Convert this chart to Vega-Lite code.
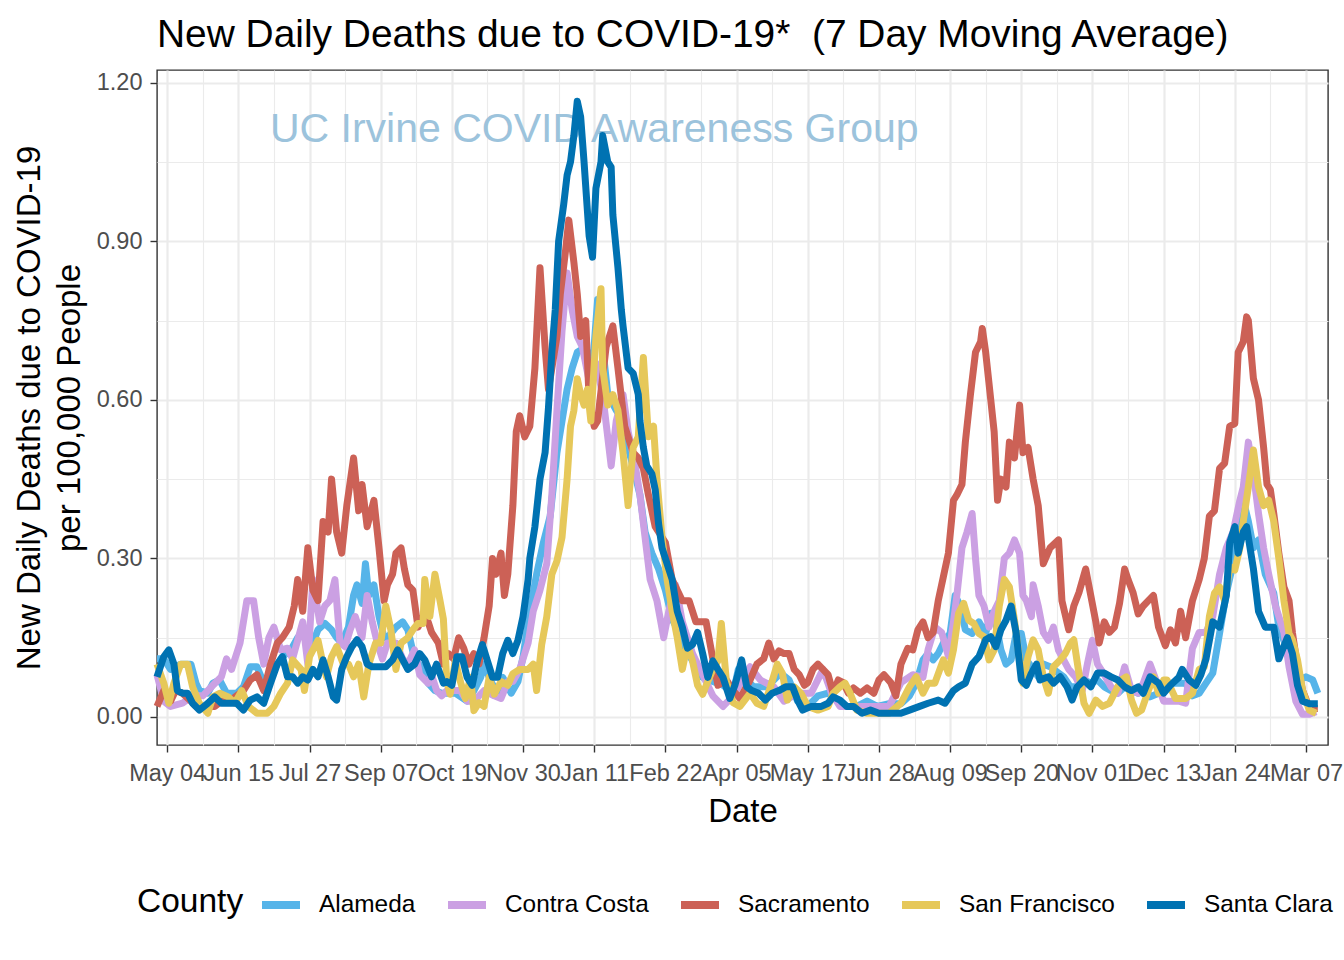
{
  "$schema": "https://vega.github.io/schema/vega-lite/v6.json",
  "width": 1171,
  "height": 675,
  "autosize": {"type": "none"},
  "padding": {"left": 157, "top": 70, "right": 16, "bottom": 215},
  "background": "white",
  "title": {
    "text": "New Daily Deaths due to COVID-19*\u00a0 (7 Day Moving Average)",
    "anchor": "start",
    "frame": "group",
    "fontSize": 38.9,
    "fontWeight": "normal",
    "color": "black",
    "font": "Liberation Sans",
    "offset": 15
  },
  "config": {
    "font": "Liberation Sans",
    "view": {"stroke": "#333333", "strokeWidth": 1.4, "fill": "white"}
  },
  "datasets": {
    "deaths": [
      {"County":"Alameda","date":"2020-04-28","value":0.11},
      {"County":"Alameda","date":"2020-05-02","value":0.11},
      {"County":"Alameda","date":"2020-05-06","value":0.09},
      {"County":"Alameda","date":"2020-05-12","value":0.10},
      {"County":"Alameda","date":"2020-05-18","value":0.10},
      {"County":"Alameda","date":"2020-05-21","value":0.064},
      {"County":"Alameda","date":"2020-05-23","value":0.05},
      {"County":"Alameda","date":"2020-05-28","value":0.045},
      {"County":"Alameda","date":"2020-05-31","value":0.064},
      {"County":"Alameda","date":"2020-06-04","value":0.07},
      {"County":"Alameda","date":"2020-06-08","value":0.045},
      {"County":"Alameda","date":"2020-06-14","value":0.045},
      {"County":"Alameda","date":"2020-06-18","value":0.057},
      {"County":"Alameda","date":"2020-06-22","value":0.095},
      {"County":"Alameda","date":"2020-06-26","value":0.095},
      {"County":"Alameda","date":"2020-06-30","value":0.064},
      {"County":"Alameda","date":"2020-07-06","value":0.09},
      {"County":"Alameda","date":"2020-07-11","value":0.114},
      {"County":"Alameda","date":"2020-07-16","value":0.127},
      {"County":"Alameda","date":"2020-07-20","value":0.15},
      {"County":"Alameda","date":"2020-07-24","value":0.165},
      {"County":"Alameda","date":"2020-07-29","value":0.14},
      {"County":"Alameda","date":"2020-08-01","value":0.165},
      {"County":"Alameda","date":"2020-08-05","value":0.177},
      {"County":"Alameda","date":"2020-08-09","value":0.165},
      {"County":"Alameda","date":"2020-08-12","value":0.15},
      {"County":"Alameda","date":"2020-08-15","value":0.14},
      {"County":"Alameda","date":"2020-08-19","value":0.17},
      {"County":"Alameda","date":"2020-08-22","value":0.23},
      {"County":"Alameda","date":"2020-08-24","value":0.25},
      {"County":"Alameda","date":"2020-08-27","value":0.215},
      {"County":"Alameda","date":"2020-08-29","value":0.29},
      {"County":"Alameda","date":"2020-08-31","value":0.23},
      {"County":"Alameda","date":"2020-09-03","value":0.25},
      {"County":"Alameda","date":"2020-09-06","value":0.19},
      {"County":"Alameda","date":"2020-09-09","value":0.15},
      {"County":"Alameda","date":"2020-09-11","value":0.15},
      {"County":"Alameda","date":"2020-09-16","value":0.17},
      {"County":"Alameda","date":"2020-09-20","value":0.18},
      {"County":"Alameda","date":"2020-09-23","value":0.165},
      {"County":"Alameda","date":"2020-09-27","value":0.11},
      {"County":"Alameda","date":"2020-10-02","value":0.09},
      {"County":"Alameda","date":"2020-10-05","value":0.064},
      {"County":"Alameda","date":"2020-10-09","value":0.05},
      {"County":"Alameda","date":"2020-10-13","value":0.045},
      {"County":"Alameda","date":"2020-10-21","value":0.045},
      {"County":"Alameda","date":"2020-10-28","value":0.03},
      {"County":"Alameda","date":"2020-11-01","value":0.05},
      {"County":"Alameda","date":"2020-11-05","value":0.075},
      {"County":"Alameda","date":"2020-11-07","value":0.10},
      {"County":"Alameda","date":"2020-11-11","value":0.067},
      {"County":"Alameda","date":"2020-11-15","value":0.045},
      {"County":"Alameda","date":"2020-11-18","value":0.075},
      {"County":"Alameda","date":"2020-11-23","value":0.045},
      {"County":"Alameda","date":"2020-11-27","value":0.067},
      {"County":"Alameda","date":"2020-11-30","value":0.114},
      {"County":"Alameda","date":"2020-12-04","value":0.20},
      {"County":"Alameda","date":"2020-12-08","value":0.27},
      {"County":"Alameda","date":"2020-12-12","value":0.33},
      {"County":"Alameda","date":"2020-12-16","value":0.38},
      {"County":"Alameda","date":"2020-12-20","value":0.50},
      {"County":"Alameda","date":"2020-12-23","value":0.56},
      {"County":"Alameda","date":"2020-12-26","value":0.62},
      {"County":"Alameda","date":"2020-12-29","value":0.66},
      {"County":"Alameda","date":"2021-01-01","value":0.69},
      {"County":"Alameda","date":"2021-01-06","value":0.70},
      {"County":"Alameda","date":"2021-01-10","value":0.66},
      {"County":"Alameda","date":"2021-01-13","value":0.79},
      {"County":"Alameda","date":"2021-01-16","value":0.70},
      {"County":"Alameda","date":"2021-01-19","value":0.61},
      {"County":"Alameda","date":"2021-01-24","value":0.58},
      {"County":"Alameda","date":"2021-01-28","value":0.56},
      {"County":"Alameda","date":"2021-01-31","value":0.51},
      {"County":"Alameda","date":"2021-02-04","value":0.46},
      {"County":"Alameda","date":"2021-02-07","value":0.42},
      {"County":"Alameda","date":"2021-02-10","value":0.35},
      {"County":"Alameda","date":"2021-02-14","value":0.31},
      {"County":"Alameda","date":"2021-02-18","value":0.28},
      {"County":"Alameda","date":"2021-02-22","value":0.24},
      {"County":"Alameda","date":"2021-02-26","value":0.185},
      {"County":"Alameda","date":"2021-03-02","value":0.16},
      {"County":"Alameda","date":"2021-03-06","value":0.13},
      {"County":"Alameda","date":"2021-03-10","value":0.106},
      {"County":"Alameda","date":"2021-03-16","value":0.075},
      {"County":"Alameda","date":"2021-03-22","value":0.067},
      {"County":"Alameda","date":"2021-03-28","value":0.06},
      {"County":"Alameda","date":"2021-04-03","value":0.045},
      {"County":"Alameda","date":"2021-04-06","value":0.09},
      {"County":"Alameda","date":"2021-04-09","value":0.076},
      {"County":"Alameda","date":"2021-04-15","value":0.057},
      {"County":"Alameda","date":"2021-04-23","value":0.057},
      {"County":"Alameda","date":"2021-05-01","value":0.083},
      {"County":"Alameda","date":"2021-05-06","value":0.07},
      {"County":"Alameda","date":"2021-05-11","value":0.03},
      {"County":"Alameda","date":"2021-05-17","value":0.02},
      {"County":"Alameda","date":"2021-05-23","value":0.04},
      {"County":"Alameda","date":"2021-05-29","value":0.045},
      {"County":"Alameda","date":"2021-06-04","value":0.03},
      {"County":"Alameda","date":"2021-06-09","value":0.02},
      {"County":"Alameda","date":"2021-06-15","value":0.02},
      {"County":"Alameda","date":"2021-06-21","value":0.03},
      {"County":"Alameda","date":"2021-06-27","value":0.02},
      {"County":"Alameda","date":"2021-07-04","value":0.025},
      {"County":"Alameda","date":"2021-07-11","value":0.025},
      {"County":"Alameda","date":"2021-07-16","value":0.04},
      {"County":"Alameda","date":"2021-07-20","value":0.064},
      {"County":"Alameda","date":"2021-07-24","value":0.108},
      {"County":"Alameda","date":"2021-07-27","value":0.12},
      {"County":"Alameda","date":"2021-07-30","value":0.108},
      {"County":"Alameda","date":"2021-08-02","value":0.12},
      {"County":"Alameda","date":"2021-08-06","value":0.146},
      {"County":"Alameda","date":"2021-08-09","value":0.158},
      {"County":"Alameda","date":"2021-08-12","value":0.23},
      {"County":"Alameda","date":"2021-08-15","value":0.21},
      {"County":"Alameda","date":"2021-08-18","value":0.165},
      {"County":"Alameda","date":"2021-08-22","value":0.158},
      {"County":"Alameda","date":"2021-08-26","value":0.18},
      {"County":"Alameda","date":"2021-08-30","value":0.158},
      {"County":"Alameda","date":"2021-09-02","value":0.196},
      {"County":"Alameda","date":"2021-09-05","value":0.177},
      {"County":"Alameda","date":"2021-09-08","value":0.127},
      {"County":"Alameda","date":"2021-09-11","value":0.10},
      {"County":"Alameda","date":"2021-09-14","value":0.108},
      {"County":"Alameda","date":"2021-09-17","value":0.158},
      {"County":"Alameda","date":"2021-09-20","value":0.158},
      {"County":"Alameda","date":"2021-09-23","value":0.108},
      {"County":"Alameda","date":"2021-09-26","value":0.095},
      {"County":"Alameda","date":"2021-09-30","value":0.076},
      {"County":"Alameda","date":"2021-10-03","value":0.10},
      {"County":"Alameda","date":"2021-10-07","value":0.095},
      {"County":"Alameda","date":"2021-10-12","value":0.083},
      {"County":"Alameda","date":"2021-10-15","value":0.076},
      {"County":"Alameda","date":"2021-10-19","value":0.057},
      {"County":"Alameda","date":"2021-10-23","value":0.057},
      {"County":"Alameda","date":"2021-10-27","value":0.07},
      {"County":"Alameda","date":"2021-10-31","value":0.064},
      {"County":"Alameda","date":"2021-11-04","value":0.07},
      {"County":"Alameda","date":"2021-11-08","value":0.057},
      {"County":"Alameda","date":"2021-11-12","value":0.05},
      {"County":"Alameda","date":"2021-11-16","value":0.045},
      {"County":"Alameda","date":"2021-11-20","value":0.057},
      {"County":"Alameda","date":"2021-11-24","value":0.05},
      {"County":"Alameda","date":"2021-11-28","value":0.045},
      {"County":"Alameda","date":"2021-12-01","value":0.057},
      {"County":"Alameda","date":"2021-12-05","value":0.038},
      {"County":"Alameda","date":"2021-12-10","value":0.045},
      {"County":"Alameda","date":"2021-12-13","value":0.05},
      {"County":"Alameda","date":"2021-12-17","value":0.064},
      {"County":"Alameda","date":"2021-12-22","value":0.064},
      {"County":"Alameda","date":"2021-12-26","value":0.064},
      {"County":"Alameda","date":"2021-12-30","value":0.04},
      {"County":"Alameda","date":"2022-01-03","value":0.045},
      {"County":"Alameda","date":"2022-01-07","value":0.064},
      {"County":"Alameda","date":"2022-01-11","value":0.083},
      {"County":"Alameda","date":"2022-01-15","value":0.158},
      {"County":"Alameda","date":"2022-01-19","value":0.234},
      {"County":"Alameda","date":"2022-01-23","value":0.29},
      {"County":"Alameda","date":"2022-01-27","value":0.40},
      {"County":"Alameda","date":"2022-01-29","value":0.41},
      {"County":"Alameda","date":"2022-02-01","value":0.37},
      {"County":"Alameda","date":"2022-02-04","value":0.32},
      {"County":"Alameda","date":"2022-02-07","value":0.335},
      {"County":"Alameda","date":"2022-02-11","value":0.27},
      {"County":"Alameda","date":"2022-02-16","value":0.234},
      {"County":"Alameda","date":"2022-02-19","value":0.17},
      {"County":"Alameda","date":"2022-02-24","value":0.127},
      {"County":"Alameda","date":"2022-02-27","value":0.108},
      {"County":"Alameda","date":"2022-03-03","value":0.07},
      {"County":"Alameda","date":"2022-03-07","value":0.076},
      {"County":"Alameda","date":"2022-03-11","value":0.07},
      {"County":"Alameda","date":"2022-03-14","value":0.045},

      {"County":"Contra Costa","date":"2020-04-28","value":0.08},
      {"County":"Contra Costa","date":"2020-05-02","value":0.03},
      {"County":"Contra Costa","date":"2020-05-06","value":0.02},
      {"County":"Contra Costa","date":"2020-05-13","value":0.026},
      {"County":"Contra Costa","date":"2020-05-19","value":0.04},
      {"County":"Contra Costa","date":"2020-05-25","value":0.04},
      {"County":"Contra Costa","date":"2020-05-31","value":0.06},
      {"County":"Contra Costa","date":"2020-06-05","value":0.076},
      {"County":"Contra Costa","date":"2020-06-08","value":0.11},
      {"County":"Contra Costa","date":"2020-06-11","value":0.09},
      {"County":"Contra Costa","date":"2020-06-16","value":0.14},
      {"County":"Contra Costa","date":"2020-06-20","value":0.22},
      {"County":"Contra Costa","date":"2020-06-24","value":0.22},
      {"County":"Contra Costa","date":"2020-06-27","value":0.15},
      {"County":"Contra Costa","date":"2020-06-30","value":0.10},
      {"County":"Contra Costa","date":"2020-07-03","value":0.15},
      {"County":"Contra Costa","date":"2020-07-06","value":0.17},
      {"County":"Contra Costa","date":"2020-07-10","value":0.127},
      {"County":"Contra Costa","date":"2020-07-14","value":0.13},
      {"County":"Contra Costa","date":"2020-07-17","value":0.11},
      {"County":"Contra Costa","date":"2020-07-20","value":0.145},
      {"County":"Contra Costa","date":"2020-07-23","value":0.18},
      {"County":"Contra Costa","date":"2020-07-26","value":0.10},
      {"County":"Contra Costa","date":"2020-07-29","value":0.26},
      {"County":"Contra Costa","date":"2020-08-02","value":0.18},
      {"County":"Contra Costa","date":"2020-08-05","value":0.21},
      {"County":"Contra Costa","date":"2020-08-08","value":0.22},
      {"County":"Contra Costa","date":"2020-08-11","value":0.26},
      {"County":"Contra Costa","date":"2020-08-14","value":0.14},
      {"County":"Contra Costa","date":"2020-08-17","value":0.133},
      {"County":"Contra Costa","date":"2020-08-20","value":0.165},
      {"County":"Contra Costa","date":"2020-08-23","value":0.19},
      {"County":"Contra Costa","date":"2020-08-27","value":0.15},
      {"County":"Contra Costa","date":"2020-08-30","value":0.23},
      {"County":"Contra Costa","date":"2020-09-02","value":0.18},
      {"County":"Contra Costa","date":"2020-09-05","value":0.14},
      {"County":"Contra Costa","date":"2020-09-08","value":0.11},
      {"County":"Contra Costa","date":"2020-09-11","value":0.14},
      {"County":"Contra Costa","date":"2020-09-16","value":0.14},
      {"County":"Contra Costa","date":"2020-09-20","value":0.11},
      {"County":"Contra Costa","date":"2020-09-23","value":0.10},
      {"County":"Contra Costa","date":"2020-09-27","value":0.127},
      {"County":"Contra Costa","date":"2020-09-30","value":0.08},
      {"County":"Contra Costa","date":"2020-10-05","value":0.064},
      {"County":"Contra Costa","date":"2020-10-07","value":0.08},
      {"County":"Contra Costa","date":"2020-10-10","value":0.05},
      {"County":"Contra Costa","date":"2020-10-13","value":0.04},
      {"County":"Contra Costa","date":"2020-10-16","value":0.05},
      {"County":"Contra Costa","date":"2020-10-24","value":0.05},
      {"County":"Contra Costa","date":"2020-10-28","value":0.03},
      {"County":"Contra Costa","date":"2020-11-01","value":0.03},
      {"County":"Contra Costa","date":"2020-11-07","value":0.05},
      {"County":"Contra Costa","date":"2020-11-13","value":0.04},
      {"County":"Contra Costa","date":"2020-11-17","value":0.035},
      {"County":"Contra Costa","date":"2020-11-21","value":0.067},
      {"County":"Contra Costa","date":"2020-11-24","value":0.067},
      {"County":"Contra Costa","date":"2020-11-28","value":0.09},
      {"County":"Contra Costa","date":"2020-12-03","value":0.14},
      {"County":"Contra Costa","date":"2020-12-06","value":0.20},
      {"County":"Contra Costa","date":"2020-12-10","value":0.24},
      {"County":"Contra Costa","date":"2020-12-14","value":0.29},
      {"County":"Contra Costa","date":"2020-12-17","value":0.42},
      {"County":"Contra Costa","date":"2020-12-20","value":0.58},
      {"County":"Contra Costa","date":"2020-12-23","value":0.73},
      {"County":"Contra Costa","date":"2020-12-26","value":0.84},
      {"County":"Contra Costa","date":"2020-12-29","value":0.77},
      {"County":"Contra Costa","date":"2021-01-01","value":0.72},
      {"County":"Contra Costa","date":"2021-01-04","value":0.70},
      {"County":"Contra Costa","date":"2021-01-09","value":0.62},
      {"County":"Contra Costa","date":"2021-01-12","value":0.67},
      {"County":"Contra Costa","date":"2021-01-16","value":0.61},
      {"County":"Contra Costa","date":"2021-01-21","value":0.475},
      {"County":"Contra Costa","date":"2021-01-24","value":0.56},
      {"County":"Contra Costa","date":"2021-01-28","value":0.61},
      {"County":"Contra Costa","date":"2021-01-31","value":0.54},
      {"County":"Contra Costa","date":"2021-02-04","value":0.48},
      {"County":"Contra Costa","date":"2021-02-07","value":0.42},
      {"County":"Contra Costa","date":"2021-02-10","value":0.34},
      {"County":"Contra Costa","date":"2021-02-13","value":0.26},
      {"County":"Contra Costa","date":"2021-02-17","value":0.22},
      {"County":"Contra Costa","date":"2021-02-21","value":0.15},
      {"County":"Contra Costa","date":"2021-02-24","value":0.20},
      {"County":"Contra Costa","date":"2021-02-28","value":0.25},
      {"County":"Contra Costa","date":"2021-03-04","value":0.18},
      {"County":"Contra Costa","date":"2021-03-10","value":0.12},
      {"County":"Contra Costa","date":"2021-03-16","value":0.08},
      {"County":"Contra Costa","date":"2021-03-22","value":0.04},
      {"County":"Contra Costa","date":"2021-03-28","value":0.02},
      {"County":"Contra Costa","date":"2021-04-03","value":0.04},
      {"County":"Contra Costa","date":"2021-04-13","value":0.095},
      {"County":"Contra Costa","date":"2021-04-19","value":0.07},
      {"County":"Contra Costa","date":"2021-04-27","value":0.057},
      {"County":"Contra Costa","date":"2021-05-03","value":0.03},
      {"County":"Contra Costa","date":"2021-05-11","value":0.045},
      {"County":"Contra Costa","date":"2021-05-19","value":0.045},
      {"County":"Contra Costa","date":"2021-05-26","value":0.09},
      {"County":"Contra Costa","date":"2021-05-31","value":0.045},
      {"County":"Contra Costa","date":"2021-06-05","value":0.02},
      {"County":"Contra Costa","date":"2021-06-11","value":0.02},
      {"County":"Contra Costa","date":"2021-06-19","value":0.02},
      {"County":"Contra Costa","date":"2021-06-27","value":0.02},
      {"County":"Contra Costa","date":"2021-07-04","value":0.02},
      {"County":"Contra Costa","date":"2021-07-11","value":0.065},
      {"County":"Contra Costa","date":"2021-07-18","value":0.08},
      {"County":"Contra Costa","date":"2021-07-24","value":0.075},
      {"County":"Contra Costa","date":"2021-07-27","value":0.127},
      {"County":"Contra Costa","date":"2021-07-31","value":0.17},
      {"County":"Contra Costa","date":"2021-08-04","value":0.16},
      {"County":"Contra Costa","date":"2021-08-08","value":0.115},
      {"County":"Contra Costa","date":"2021-08-11","value":0.18},
      {"County":"Contra Costa","date":"2021-08-13","value":0.23},
      {"County":"Contra Costa","date":"2021-08-16","value":0.32},
      {"County":"Contra Costa","date":"2021-08-19","value":0.35},
      {"County":"Contra Costa","date":"2021-08-22","value":0.385},
      {"County":"Contra Costa","date":"2021-08-24","value":0.30},
      {"County":"Contra Costa","date":"2021-08-26","value":0.23},
      {"County":"Contra Costa","date":"2021-08-29","value":0.21},
      {"County":"Contra Costa","date":"2021-09-01","value":0.17},
      {"County":"Contra Costa","date":"2021-09-04","value":0.20},
      {"County":"Contra Costa","date":"2021-09-07","value":0.22},
      {"County":"Contra Costa","date":"2021-09-10","value":0.30},
      {"County":"Contra Costa","date":"2021-09-13","value":0.31},
      {"County":"Contra Costa","date":"2021-09-16","value":0.335},
      {"County":"Contra Costa","date":"2021-09-19","value":0.31},
      {"County":"Contra Costa","date":"2021-09-21","value":0.23},
      {"County":"Contra Costa","date":"2021-09-23","value":0.22},
      {"County":"Contra Costa","date":"2021-09-26","value":0.19},
      {"County":"Contra Costa","date":"2021-09-27","value":0.25},
      {"County":"Contra Costa","date":"2021-09-30","value":0.21},
      {"County":"Contra Costa","date":"2021-10-03","value":0.16},
      {"County":"Contra Costa","date":"2021-10-06","value":0.145},
      {"County":"Contra Costa","date":"2021-10-09","value":0.17},
      {"County":"Contra Costa","date":"2021-10-12","value":0.126},
      {"County":"Contra Costa","date":"2021-10-15","value":0.108},
      {"County":"Contra Costa","date":"2021-10-18","value":0.09},
      {"County":"Contra Costa","date":"2021-10-22","value":0.076},
      {"County":"Contra Costa","date":"2021-10-26","value":0.05},
      {"County":"Contra Costa","date":"2021-10-29","value":0.10},
      {"County":"Contra Costa","date":"2021-11-01","value":0.145},
      {"County":"Contra Costa","date":"2021-11-04","value":0.10},
      {"County":"Contra Costa","date":"2021-11-08","value":0.08},
      {"County":"Contra Costa","date":"2021-11-12","value":0.057},
      {"County":"Contra Costa","date":"2021-11-16","value":0.045},
      {"County":"Contra Costa","date":"2021-11-20","value":0.095},
      {"County":"Contra Costa","date":"2021-11-24","value":0.05},
      {"County":"Contra Costa","date":"2021-11-28","value":0.045},
      {"County":"Contra Costa","date":"2021-12-01","value":0.064},
      {"County":"Contra Costa","date":"2021-12-05","value":0.10},
      {"County":"Contra Costa","date":"2021-12-10","value":0.057},
      {"County":"Contra Costa","date":"2021-12-13","value":0.03},
      {"County":"Contra Costa","date":"2021-12-17","value":0.03},
      {"County":"Contra Costa","date":"2021-12-22","value":0.03},
      {"County":"Contra Costa","date":"2021-12-26","value":0.026},
      {"County":"Contra Costa","date":"2021-12-30","value":0.13},
      {"County":"Contra Costa","date":"2022-01-03","value":0.16},
      {"County":"Contra Costa","date":"2022-01-07","value":0.16},
      {"County":"Contra Costa","date":"2022-01-11","value":0.19},
      {"County":"Contra Costa","date":"2022-01-15","value":0.27},
      {"County":"Contra Costa","date":"2022-01-19","value":0.32},
      {"County":"Contra Costa","date":"2022-01-23","value":0.35},
      {"County":"Contra Costa","date":"2022-01-27","value":0.41},
      {"County":"Contra Costa","date":"2022-01-29","value":0.435},
      {"County":"Contra Costa","date":"2022-02-01","value":0.52},
      {"County":"Contra Costa","date":"2022-02-04","value":0.46},
      {"County":"Contra Costa","date":"2022-02-07","value":0.385},
      {"County":"Contra Costa","date":"2022-02-10","value":0.32},
      {"County":"Contra Costa","date":"2022-02-13","value":0.27},
      {"County":"Contra Costa","date":"2022-02-17","value":0.21},
      {"County":"Contra Costa","date":"2022-02-22","value":0.16},
      {"County":"Contra Costa","date":"2022-02-25","value":0.095},
      {"County":"Contra Costa","date":"2022-03-01","value":0.03},
      {"County":"Contra Costa","date":"2022-03-05","value":0.005},
      {"County":"Contra Costa","date":"2022-03-09","value":0.005},
      {"County":"Contra Costa","date":"2022-03-13","value":0.01},

      {"County":"Sacramento","date":"2020-04-28","value":0.02},
      {"County":"Sacramento","date":"2020-05-02","value":0.05},
      {"County":"Sacramento","date":"2020-05-06","value":0.03},
      {"County":"Sacramento","date":"2020-05-09","value":0.05},
      {"County":"Sacramento","date":"2020-05-13","value":0.045},
      {"County":"Sacramento","date":"2020-05-18","value":0.03},
      {"County":"Sacramento","date":"2020-05-21","value":0.02},
      {"County":"Sacramento","date":"2020-05-26","value":0.02},
      {"County":"Sacramento","date":"2020-06-01","value":0.02},
      {"County":"Sacramento","date":"2020-06-05","value":0.03},
      {"County":"Sacramento","date":"2020-06-10","value":0.03},
      {"County":"Sacramento","date":"2020-06-14","value":0.04},
      {"County":"Sacramento","date":"2020-06-18","value":0.05},
      {"County":"Sacramento","date":"2020-06-22","value":0.07},
      {"County":"Sacramento","date":"2020-06-26","value":0.08},
      {"County":"Sacramento","date":"2020-06-30","value":0.05},
      {"County":"Sacramento","date":"2020-07-04","value":0.10},
      {"County":"Sacramento","date":"2020-07-08","value":0.14},
      {"County":"Sacramento","date":"2020-07-11","value":0.15},
      {"County":"Sacramento","date":"2020-07-15","value":0.17},
      {"County":"Sacramento","date":"2020-07-18","value":0.21},
      {"County":"Sacramento","date":"2020-07-20","value":0.26},
      {"County":"Sacramento","date":"2020-07-23","value":0.20},
      {"County":"Sacramento","date":"2020-07-26","value":0.32},
      {"County":"Sacramento","date":"2020-07-29","value":0.24},
      {"County":"Sacramento","date":"2020-08-01","value":0.22},
      {"County":"Sacramento","date":"2020-08-04","value":0.37},
      {"County":"Sacramento","date":"2020-08-07","value":0.35},
      {"County":"Sacramento","date":"2020-08-09","value":0.45},
      {"County":"Sacramento","date":"2020-08-12","value":0.35},
      {"County":"Sacramento","date":"2020-08-15","value":0.31},
      {"County":"Sacramento","date":"2020-08-18","value":0.40},
      {"County":"Sacramento","date":"2020-08-22","value":0.49},
      {"County":"Sacramento","date":"2020-08-25","value":0.39},
      {"County":"Sacramento","date":"2020-08-27","value":0.44},
      {"County":"Sacramento","date":"2020-08-30","value":0.36},
      {"County":"Sacramento","date":"2020-09-03","value":0.41},
      {"County":"Sacramento","date":"2020-09-06","value":0.32},
      {"County":"Sacramento","date":"2020-09-09","value":0.22},
      {"County":"Sacramento","date":"2020-09-11","value":0.25},
      {"County":"Sacramento","date":"2020-09-14","value":0.27},
      {"County":"Sacramento","date":"2020-09-16","value":0.31},
      {"County":"Sacramento","date":"2020-09-19","value":0.32},
      {"County":"Sacramento","date":"2020-09-21","value":0.28},
      {"County":"Sacramento","date":"2020-09-23","value":0.25},
      {"County":"Sacramento","date":"2020-09-26","value":0.24},
      {"County":"Sacramento","date":"2020-09-29","value":0.17},
      {"County":"Sacramento","date":"2020-10-02","value":0.19},
      {"County":"Sacramento","date":"2020-10-05","value":0.18},
      {"County":"Sacramento","date":"2020-10-07","value":0.16},
      {"County":"Sacramento","date":"2020-10-11","value":0.14},
      {"County":"Sacramento","date":"2020-10-14","value":0.10},
      {"County":"Sacramento","date":"2020-10-17","value":0.12},
      {"County":"Sacramento","date":"2020-10-20","value":0.11},
      {"County":"Sacramento","date":"2020-10-23","value":0.15},
      {"County":"Sacramento","date":"2020-10-26","value":0.13},
      {"County":"Sacramento","date":"2020-10-29","value":0.10},
      {"County":"Sacramento","date":"2020-11-01","value":0.12},
      {"County":"Sacramento","date":"2020-11-04","value":0.10},
      {"County":"Sacramento","date":"2020-11-07","value":0.15},
      {"County":"Sacramento","date":"2020-11-10","value":0.21},
      {"County":"Sacramento","date":"2020-11-12","value":0.30},
      {"County":"Sacramento","date":"2020-11-14","value":0.27},
      {"County":"Sacramento","date":"2020-11-17","value":0.31},
      {"County":"Sacramento","date":"2020-11-19","value":0.23},
      {"County":"Sacramento","date":"2020-11-21","value":0.27},
      {"County":"Sacramento","date":"2020-11-24","value":0.40},
      {"County":"Sacramento","date":"2020-11-26","value":0.54},
      {"County":"Sacramento","date":"2020-11-28","value":0.57},
      {"County":"Sacramento","date":"2020-12-01","value":0.53},
      {"County":"Sacramento","date":"2020-12-04","value":0.55},
      {"County":"Sacramento","date":"2020-12-07","value":0.66},
      {"County":"Sacramento","date":"2020-12-10","value":0.85},
      {"County":"Sacramento","date":"2020-12-13","value":0.70},
      {"County":"Sacramento","date":"2020-12-15","value":0.62},
      {"County":"Sacramento","date":"2020-12-17","value":0.66},
      {"County":"Sacramento","date":"2020-12-20","value":0.72},
      {"County":"Sacramento","date":"2020-12-22","value":0.80},
      {"County":"Sacramento","date":"2020-12-25","value":0.88},
      {"County":"Sacramento","date":"2020-12-27","value":0.94},
      {"County":"Sacramento","date":"2020-12-30","value":0.86},
      {"County":"Sacramento","date":"2021-01-01","value":0.80},
      {"County":"Sacramento","date":"2021-01-03","value":0.72},
      {"County":"Sacramento","date":"2021-01-06","value":0.75},
      {"County":"Sacramento","date":"2021-01-08","value":0.60},
      {"County":"Sacramento","date":"2021-01-11","value":0.55},
      {"County":"Sacramento","date":"2021-01-13","value":0.56},
      {"County":"Sacramento","date":"2021-01-18","value":0.70},
      {"County":"Sacramento","date":"2021-01-22","value":0.74},
      {"County":"Sacramento","date":"2021-01-25","value":0.66},
      {"County":"Sacramento","date":"2021-01-29","value":0.55},
      {"County":"Sacramento","date":"2021-02-03","value":0.50},
      {"County":"Sacramento","date":"2021-02-06","value":0.49},
      {"County":"Sacramento","date":"2021-02-09","value":0.47},
      {"County":"Sacramento","date":"2021-02-12","value":0.42},
      {"County":"Sacramento","date":"2021-02-16","value":0.36},
      {"County":"Sacramento","date":"2021-02-22","value":0.33},
      {"County":"Sacramento","date":"2021-02-26","value":0.26},
      {"County":"Sacramento","date":"2021-03-04","value":0.22},
      {"County":"Sacramento","date":"2021-03-08","value":0.22},
      {"County":"Sacramento","date":"2021-03-12","value":0.18},
      {"County":"Sacramento","date":"2021-03-18","value":0.18},
      {"County":"Sacramento","date":"2021-03-22","value":0.11},
      {"County":"Sacramento","date":"2021-03-25","value":0.06},
      {"County":"Sacramento","date":"2021-03-30","value":0.07},
      {"County":"Sacramento","date":"2021-04-03","value":0.05},
      {"County":"Sacramento","date":"2021-04-07","value":0.035},
      {"County":"Sacramento","date":"2021-04-13","value":0.07},
      {"County":"Sacramento","date":"2021-04-17","value":0.10},
      {"County":"Sacramento","date":"2021-04-21","value":0.11},
      {"County":"Sacramento","date":"2021-04-24","value":0.14},
      {"County":"Sacramento","date":"2021-04-27","value":0.11},
      {"County":"Sacramento","date":"2021-04-30","value":0.125},
      {"County":"Sacramento","date":"2021-05-03","value":0.12},
      {"County":"Sacramento","date":"2021-05-06","value":0.12},
      {"County":"Sacramento","date":"2021-05-09","value":0.09},
      {"County":"Sacramento","date":"2021-05-12","value":0.08},
      {"County":"Sacramento","date":"2021-05-15","value":0.06},
      {"County":"Sacramento","date":"2021-05-17","value":0.065},
      {"County":"Sacramento","date":"2021-05-20","value":0.09},
      {"County":"Sacramento","date":"2021-05-23","value":0.10},
      {"County":"Sacramento","date":"2021-05-26","value":0.09},
      {"County":"Sacramento","date":"2021-05-29","value":0.08},
      {"County":"Sacramento","date":"2021-06-01","value":0.045},
      {"County":"Sacramento","date":"2021-06-04","value":0.07},
      {"County":"Sacramento","date":"2021-06-07","value":0.065},
      {"County":"Sacramento","date":"2021-06-10","value":0.045},
      {"County":"Sacramento","date":"2021-06-13","value":0.055},
      {"County":"Sacramento","date":"2021-06-17","value":0.045},
      {"County":"Sacramento","date":"2021-06-21","value":0.055},
      {"County":"Sacramento","date":"2021-06-25","value":0.045},
      {"County":"Sacramento","date":"2021-06-28","value":0.07},
      {"County":"Sacramento","date":"2021-07-01","value":0.08},
      {"County":"Sacramento","date":"2021-07-05","value":0.065},
      {"County":"Sacramento","date":"2021-07-08","value":0.04},
      {"County":"Sacramento","date":"2021-07-11","value":0.10},
      {"County":"Sacramento","date":"2021-07-15","value":0.13},
      {"County":"Sacramento","date":"2021-07-18","value":0.127},
      {"County":"Sacramento","date":"2021-07-21","value":0.165},
      {"County":"Sacramento","date":"2021-07-24","value":0.18},
      {"County":"Sacramento","date":"2021-07-27","value":0.15},
      {"County":"Sacramento","date":"2021-07-30","value":0.16},
      {"County":"Sacramento","date":"2021-08-02","value":0.22},
      {"County":"Sacramento","date":"2021-08-05","value":0.265},
      {"County":"Sacramento","date":"2021-08-08","value":0.31},
      {"County":"Sacramento","date":"2021-08-11","value":0.41},
      {"County":"Sacramento","date":"2021-08-13","value":0.42},
      {"County":"Sacramento","date":"2021-08-16","value":0.44},
      {"County":"Sacramento","date":"2021-08-18","value":0.52},
      {"County":"Sacramento","date":"2021-08-21","value":0.61},
      {"County":"Sacramento","date":"2021-08-24","value":0.69},
      {"County":"Sacramento","date":"2021-08-27","value":0.71},
      {"County":"Sacramento","date":"2021-08-28","value":0.735},
      {"County":"Sacramento","date":"2021-08-30","value":0.69},
      {"County":"Sacramento","date":"2021-09-02","value":0.60},
      {"County":"Sacramento","date":"2021-09-04","value":0.54},
      {"County":"Sacramento","date":"2021-09-06","value":0.41},
      {"County":"Sacramento","date":"2021-09-08","value":0.45},
      {"County":"Sacramento","date":"2021-09-11","value":0.435},
      {"County":"Sacramento","date":"2021-09-13","value":0.52},
      {"County":"Sacramento","date":"2021-09-16","value":0.49},
      {"County":"Sacramento","date":"2021-09-19","value":0.59},
      {"County":"Sacramento","date":"2021-09-21","value":0.50},
      {"County":"Sacramento","date":"2021-09-24","value":0.51},
      {"County":"Sacramento","date":"2021-09-27","value":0.45},
      {"County":"Sacramento","date":"2021-09-30","value":0.40},
      {"County":"Sacramento","date":"2021-10-03","value":0.29},
      {"County":"Sacramento","date":"2021-10-07","value":0.32},
      {"County":"Sacramento","date":"2021-10-12","value":0.335},
      {"County":"Sacramento","date":"2021-10-14","value":0.22},
      {"County":"Sacramento","date":"2021-10-18","value":0.165},
      {"County":"Sacramento","date":"2021-10-21","value":0.21},
      {"County":"Sacramento","date":"2021-10-24","value":0.235},
      {"County":"Sacramento","date":"2021-10-28","value":0.28},
      {"County":"Sacramento","date":"2021-10-31","value":0.23},
      {"County":"Sacramento","date":"2021-11-03","value":0.18},
      {"County":"Sacramento","date":"2021-11-05","value":0.14},
      {"County":"Sacramento","date":"2021-11-08","value":0.18},
      {"County":"Sacramento","date":"2021-11-11","value":0.16},
      {"County":"Sacramento","date":"2021-11-14","value":0.17},
      {"County":"Sacramento","date":"2021-11-17","value":0.215},
      {"County":"Sacramento","date":"2021-11-20","value":0.28},
      {"County":"Sacramento","date":"2021-11-22","value":0.26},
      {"County":"Sacramento","date":"2021-11-25","value":0.235},
      {"County":"Sacramento","date":"2021-11-28","value":0.195},
      {"County":"Sacramento","date":"2021-12-01","value":0.21},
      {"County":"Sacramento","date":"2021-12-04","value":0.22},
      {"County":"Sacramento","date":"2021-12-07","value":0.23},
      {"County":"Sacramento","date":"2021-12-10","value":0.17},
      {"County":"Sacramento","date":"2021-12-14","value":0.135},
      {"County":"Sacramento","date":"2021-12-17","value":0.165},
      {"County":"Sacramento","date":"2021-12-20","value":0.14},
      {"County":"Sacramento","date":"2021-12-23","value":0.20},
      {"County":"Sacramento","date":"2021-12-26","value":0.15},
      {"County":"Sacramento","date":"2021-12-30","value":0.22},
      {"County":"Sacramento","date":"2022-01-03","value":0.26},
      {"County":"Sacramento","date":"2022-01-06","value":0.30},
      {"County":"Sacramento","date":"2022-01-09","value":0.38},
      {"County":"Sacramento","date":"2022-01-12","value":0.39},
      {"County":"Sacramento","date":"2022-01-15","value":0.47},
      {"County":"Sacramento","date":"2022-01-18","value":0.48},
      {"County":"Sacramento","date":"2022-01-21","value":0.55},
      {"County":"Sacramento","date":"2022-01-24","value":0.555},
      {"County":"Sacramento","date":"2022-01-26","value":0.69},
      {"County":"Sacramento","date":"2022-01-29","value":0.71},
      {"County":"Sacramento","date":"2022-01-31","value":0.757},
      {"County":"Sacramento","date":"2022-02-01","value":0.75},
      {"County":"Sacramento","date":"2022-02-04","value":0.64},
      {"County":"Sacramento","date":"2022-02-07","value":0.60},
      {"County":"Sacramento","date":"2022-02-10","value":0.51},
      {"County":"Sacramento","date":"2022-02-12","value":0.44},
      {"County":"Sacramento","date":"2022-02-14","value":0.43},
      {"County":"Sacramento","date":"2022-02-16","value":0.385},
      {"County":"Sacramento","date":"2022-02-19","value":0.31},
      {"County":"Sacramento","date":"2022-02-22","value":0.246},
      {"County":"Sacramento","date":"2022-02-25","value":0.22},
      {"County":"Sacramento","date":"2022-02-27","value":0.16},
      {"County":"Sacramento","date":"2022-03-02","value":0.095},
      {"County":"Sacramento","date":"2022-03-05","value":0.05},
      {"County":"Sacramento","date":"2022-03-08","value":0.026},
      {"County":"Sacramento","date":"2022-03-11","value":0.016},
      {"County":"Sacramento","date":"2022-03-14","value":0.016},

      {"County":"San Francisco","date":"2020-04-28","value":0.10},
      {"County":"San Francisco","date":"2020-05-02","value":0.064},
      {"County":"San Francisco","date":"2020-05-05","value":0.026},
      {"County":"San Francisco","date":"2020-05-08","value":0.064},
      {"County":"San Francisco","date":"2020-05-12","value":0.10},
      {"County":"San Francisco","date":"2020-05-16","value":0.10},
      {"County":"San Francisco","date":"2020-05-19","value":0.057},
      {"County":"San Francisco","date":"2020-05-23","value":0.026},
      {"County":"San Francisco","date":"2020-05-28","value":0.007},
      {"County":"San Francisco","date":"2020-05-31","value":0.038},
      {"County":"San Francisco","date":"2020-06-04","value":0.045},
      {"County":"San Francisco","date":"2020-06-09","value":0.038},
      {"County":"San Francisco","date":"2020-06-13","value":0.026},
      {"County":"San Francisco","date":"2020-06-17","value":0.05},
      {"County":"San Francisco","date":"2020-06-21","value":0.02},
      {"County":"San Francisco","date":"2020-06-26","value":0.007},
      {"County":"San Francisco","date":"2020-07-02","value":0.007},
      {"County":"San Francisco","date":"2020-07-06","value":0.02},
      {"County":"San Francisco","date":"2020-07-10","value":0.045},
      {"County":"San Francisco","date":"2020-07-14","value":0.064},
      {"County":"San Francisco","date":"2020-07-17","value":0.108},
      {"County":"San Francisco","date":"2020-07-22","value":0.09},
      {"County":"San Francisco","date":"2020-07-24","value":0.05},
      {"County":"San Francisco","date":"2020-07-27","value":0.114},
      {"County":"San Francisco","date":"2020-08-01","value":0.145},
      {"County":"San Francisco","date":"2020-08-04","value":0.10},
      {"County":"San Francisco","date":"2020-08-06","value":0.076},
      {"County":"San Francisco","date":"2020-08-09","value":0.114},
      {"County":"San Francisco","date":"2020-08-12","value":0.133},
      {"County":"San Francisco","date":"2020-08-16","value":0.10},
      {"County":"San Francisco","date":"2020-08-19","value":0.10},
      {"County":"San Francisco","date":"2020-08-22","value":0.076},
      {"County":"San Francisco","date":"2020-08-25","value":0.10},
      {"County":"San Francisco","date":"2020-08-28","value":0.038},
      {"County":"San Francisco","date":"2020-08-31","value":0.10},
      {"County":"San Francisco","date":"2020-09-04","value":0.14},
      {"County":"San Francisco","date":"2020-09-07","value":0.14},
      {"County":"San Francisco","date":"2020-09-10","value":0.21},
      {"County":"San Francisco","date":"2020-09-13","value":0.165},
      {"County":"San Francisco","date":"2020-09-16","value":0.09},
      {"County":"San Francisco","date":"2020-09-19","value":0.14},
      {"County":"San Francisco","date":"2020-09-23","value":0.15},
      {"County":"San Francisco","date":"2020-09-26","value":0.165},
      {"County":"San Francisco","date":"2020-09-29","value":0.177},
      {"County":"San Francisco","date":"2020-10-02","value":0.177},
      {"County":"San Francisco","date":"2020-10-03","value":0.26},
      {"County":"San Francisco","date":"2020-10-06","value":0.19},
      {"County":"San Francisco","date":"2020-10-09","value":0.27},
      {"County":"San Francisco","date":"2020-10-12","value":0.22},
      {"County":"San Francisco","date":"2020-10-14","value":0.185},
      {"County":"San Francisco","date":"2020-10-16","value":0.067},
      {"County":"San Francisco","date":"2020-10-18","value":0.043},
      {"County":"San Francisco","date":"2020-10-21","value":0.106},
      {"County":"San Francisco","date":"2020-10-24","value":0.067},
      {"County":"San Francisco","date":"2020-10-27","value":0.035},
      {"County":"San Francisco","date":"2020-10-30","value":0.075},
      {"County":"San Francisco","date":"2020-11-01","value":0.012},
      {"County":"San Francisco","date":"2020-11-04","value":0.027},
      {"County":"San Francisco","date":"2020-11-07","value":0.02},
      {"County":"San Francisco","date":"2020-11-10","value":0.075},
      {"County":"San Francisco","date":"2020-11-13","value":0.043},
      {"County":"San Francisco","date":"2020-11-17","value":0.067},
      {"County":"San Francisco","date":"2020-11-21","value":0.06},
      {"County":"San Francisco","date":"2020-11-24","value":0.082},
      {"County":"San Francisco","date":"2020-11-28","value":0.09},
      {"County":"San Francisco","date":"2020-12-03","value":0.09},
      {"County":"San Francisco","date":"2020-12-06","value":0.10},
      {"County":"San Francisco","date":"2020-12-08","value":0.05},
      {"County":"San Francisco","date":"2020-12-11","value":0.137},
      {"County":"San Francisco","date":"2020-12-14","value":0.19},
      {"County":"San Francisco","date":"2020-12-17","value":0.27},
      {"County":"San Francisco","date":"2020-12-20","value":0.295},
      {"County":"San Francisco","date":"2020-12-23","value":0.34},
      {"County":"San Francisco","date":"2020-12-26","value":0.45},
      {"County":"San Francisco","date":"2020-12-28","value":0.55},
      {"County":"San Francisco","date":"2020-12-30","value":0.58},
      {"County":"San Francisco","date":"2021-01-01","value":0.64},
      {"County":"San Francisco","date":"2021-01-03","value":0.61},
      {"County":"San Francisco","date":"2021-01-05","value":0.59},
      {"County":"San Francisco","date":"2021-01-07","value":0.62},
      {"County":"San Francisco","date":"2021-01-09","value":0.56},
      {"County":"San Francisco","date":"2021-01-12","value":0.72},
      {"County":"San Francisco","date":"2021-01-15","value":0.81},
      {"County":"San Francisco","date":"2021-01-16","value":0.66},
      {"County":"San Francisco","date":"2021-01-19","value":0.59},
      {"County":"San Francisco","date":"2021-01-22","value":0.61},
      {"County":"San Francisco","date":"2021-01-25","value":0.58},
      {"County":"San Francisco","date":"2021-01-28","value":0.50},
      {"County":"San Francisco","date":"2021-01-31","value":0.40},
      {"County":"San Francisco","date":"2021-02-03","value":0.51},
      {"County":"San Francisco","date":"2021-02-06","value":0.53},
      {"County":"San Francisco","date":"2021-02-09","value":0.68},
      {"County":"San Francisco","date":"2021-02-12","value":0.53},
      {"County":"San Francisco","date":"2021-02-15","value":0.55},
      {"County":"San Francisco","date":"2021-02-17","value":0.45},
      {"County":"San Francisco","date":"2021-02-20","value":0.34},
      {"County":"San Francisco","date":"2021-02-23","value":0.26},
      {"County":"San Francisco","date":"2021-02-26","value":0.20},
      {"County":"San Francisco","date":"2021-03-01","value":0.15},
      {"County":"San Francisco","date":"2021-03-04","value":0.09},
      {"County":"San Francisco","date":"2021-03-07","value":0.137},
      {"County":"San Francisco","date":"2021-03-10","value":0.106},
      {"County":"San Francisco","date":"2021-03-13","value":0.06},
      {"County":"San Francisco","date":"2021-03-16","value":0.043},
      {"County":"San Francisco","date":"2021-03-19","value":0.067},
      {"County":"San Francisco","date":"2021-03-22","value":0.09},
      {"County":"San Francisco","date":"2021-03-25","value":0.106},
      {"County":"San Francisco","date":"2021-03-27","value":0.177},
      {"County":"San Francisco","date":"2021-03-30","value":0.067},
      {"County":"San Francisco","date":"2021-04-03","value":0.027},
      {"County":"San Francisco","date":"2021-04-07","value":0.02},
      {"County":"San Francisco","date":"2021-04-13","value":0.045},
      {"County":"San Francisco","date":"2021-04-17","value":0.026},
      {"County":"San Francisco","date":"2021-04-21","value":0.02},
      {"County":"San Francisco","date":"2021-04-25","value":0.057},
      {"County":"San Francisco","date":"2021-04-29","value":0.10},
      {"County":"San Francisco","date":"2021-05-02","value":0.083},
      {"County":"San Francisco","date":"2021-05-05","value":0.032},
      {"County":"San Francisco","date":"2021-05-09","value":0.057},
      {"County":"San Francisco","date":"2021-05-13","value":0.045},
      {"County":"San Francisco","date":"2021-05-17","value":0.02},
      {"County":"San Francisco","date":"2021-05-23","value":0.013},
      {"County":"San Francisco","date":"2021-05-29","value":0.02},
      {"County":"San Francisco","date":"2021-06-01","value":0.045},
      {"County":"San Francisco","date":"2021-06-05","value":0.057},
      {"County":"San Francisco","date":"2021-06-08","value":0.064},
      {"County":"San Francisco","date":"2021-06-11","value":0.045},
      {"County":"San Francisco","date":"2021-06-15","value":0.013},
      {"County":"San Francisco","date":"2021-06-21","value":0.007},
      {"County":"San Francisco","date":"2021-06-27","value":0.007},
      {"County":"San Francisco","date":"2021-07-04","value":0.007},
      {"County":"San Francisco","date":"2021-07-11","value":0.026},
      {"County":"San Francisco","date":"2021-07-16","value":0.057},
      {"County":"San Francisco","date":"2021-07-20","value":0.076},
      {"County":"San Francisco","date":"2021-07-24","value":0.045},
      {"County":"San Francisco","date":"2021-07-27","value":0.064},
      {"County":"San Francisco","date":"2021-07-31","value":0.064},
      {"County":"San Francisco","date":"2021-08-05","value":0.108},
      {"County":"San Francisco","date":"2021-08-08","value":0.083},
      {"County":"San Francisco","date":"2021-08-11","value":0.127},
      {"County":"San Francisco","date":"2021-08-14","value":0.196},
      {"County":"San Francisco","date":"2021-08-17","value":0.215},
      {"County":"San Francisco","date":"2021-08-20","value":0.183},
      {"County":"San Francisco","date":"2021-08-23","value":0.177},
      {"County":"San Francisco","date":"2021-08-26","value":0.158},
      {"County":"San Francisco","date":"2021-08-29","value":0.152},
      {"County":"San Francisco","date":"2021-09-01","value":0.108},
      {"County":"San Francisco","date":"2021-09-04","value":0.127},
      {"County":"San Francisco","date":"2021-09-07","value":0.21},
      {"County":"San Francisco","date":"2021-09-10","value":0.26},
      {"County":"San Francisco","date":"2021-09-13","value":0.246},
      {"County":"San Francisco","date":"2021-09-16","value":0.183},
      {"County":"San Francisco","date":"2021-09-19","value":0.108},
      {"County":"San Francisco","date":"2021-09-21","value":0.064},
      {"County":"San Francisco","date":"2021-09-24","value":0.114},
      {"County":"San Francisco","date":"2021-09-27","value":0.146},
      {"County":"San Francisco","date":"2021-09-30","value":0.127},
      {"County":"San Francisco","date":"2021-10-03","value":0.076},
      {"County":"San Francisco","date":"2021-10-06","value":0.045},
      {"County":"San Francisco","date":"2021-10-09","value":0.095},
      {"County":"San Francisco","date":"2021-10-13","value":0.108},
      {"County":"San Francisco","date":"2021-10-16","value":0.12},
      {"County":"San Francisco","date":"2021-10-19","value":0.14},
      {"County":"San Francisco","date":"2021-10-21","value":0.146},
      {"County":"San Francisco","date":"2021-10-24","value":0.083},
      {"County":"San Francisco","date":"2021-10-27","value":0.026},
      {"County":"San Francisco","date":"2021-10-30","value":0.007},
      {"County":"San Francisco","date":"2021-11-03","value":0.032},
      {"County":"San Francisco","date":"2021-11-07","value":0.02},
      {"County":"San Francisco","date":"2021-11-11","value":0.026},
      {"County":"San Francisco","date":"2021-11-14","value":0.045},
      {"County":"San Francisco","date":"2021-11-18","value":0.07},
      {"County":"San Francisco","date":"2021-11-21","value":0.076},
      {"County":"San Francisco","date":"2021-11-24","value":0.032},
      {"County":"San Francisco","date":"2021-11-27","value":0.007},
      {"County":"San Francisco","date":"2021-11-30","value":0.013},
      {"County":"San Francisco","date":"2021-12-04","value":0.05},
      {"County":"San Francisco","date":"2021-12-07","value":0.076},
      {"County":"San Francisco","date":"2021-12-10","value":0.045},
      {"County":"San Francisco","date":"2021-12-13","value":0.07},
      {"County":"San Francisco","date":"2021-12-15","value":0.07},
      {"County":"San Francisco","date":"2021-12-20","value":0.035},
      {"County":"San Francisco","date":"2021-12-26","value":0.035},
      {"County":"San Francisco","date":"2021-12-30","value":0.045},
      {"County":"San Francisco","date":"2022-01-03","value":0.09},
      {"County":"San Francisco","date":"2022-01-06","value":0.095},
      {"County":"San Francisco","date":"2022-01-09","value":0.19},
      {"County":"San Francisco","date":"2022-01-12","value":0.234},
      {"County":"San Francisco","date":"2022-01-15","value":0.246},
      {"County":"San Francisco","date":"2022-01-18","value":0.22},
      {"County":"San Francisco","date":"2022-01-21","value":0.284},
      {"County":"San Francisco","date":"2022-01-24","value":0.278},
      {"County":"San Francisco","date":"2022-01-27","value":0.32},
      {"County":"San Francisco","date":"2022-01-29","value":0.37},
      {"County":"San Francisco","date":"2022-02-01","value":0.435},
      {"County":"San Francisco","date":"2022-02-04","value":0.505},
      {"County":"San Francisco","date":"2022-02-07","value":0.435},
      {"County":"San Francisco","date":"2022-02-10","value":0.40},
      {"County":"San Francisco","date":"2022-02-13","value":0.41},
      {"County":"San Francisco","date":"2022-02-16","value":0.37},
      {"County":"San Francisco","date":"2022-02-19","value":0.30},
      {"County":"San Francisco","date":"2022-02-22","value":0.22},
      {"County":"San Francisco","date":"2022-02-25","value":0.158},
      {"County":"San Francisco","date":"2022-02-27","value":0.146},
      {"County":"San Francisco","date":"2022-03-02","value":0.108},
      {"County":"San Francisco","date":"2022-03-05","value":0.05},
      {"County":"San Francisco","date":"2022-03-09","value":0.013},
      {"County":"San Francisco","date":"2022-03-13","value":0.007},

      {"County":"Santa Clara","date":"2020-04-28","value":0.076},
      {"County":"Santa Clara","date":"2020-05-02","value":0.114},
      {"County":"Santa Clara","date":"2020-05-05","value":0.127},
      {"County":"Santa Clara","date":"2020-05-08","value":0.10},
      {"County":"Santa Clara","date":"2020-05-10","value":0.05},
      {"County":"Santa Clara","date":"2020-05-13","value":0.045},
      {"County":"Santa Clara","date":"2020-05-16","value":0.045},
      {"County":"Santa Clara","date":"2020-05-19","value":0.026},
      {"County":"Santa Clara","date":"2020-05-23","value":0.013},
      {"County":"Santa Clara","date":"2020-05-28","value":0.026},
      {"County":"Santa Clara","date":"2020-06-01","value":0.038},
      {"County":"Santa Clara","date":"2020-06-05","value":0.026},
      {"County":"Santa Clara","date":"2020-06-09","value":0.026},
      {"County":"Santa Clara","date":"2020-06-14","value":0.026},
      {"County":"Santa Clara","date":"2020-06-18","value":0.013},
      {"County":"Santa Clara","date":"2020-06-22","value":0.032},
      {"County":"Santa Clara","date":"2020-06-26","value":0.038},
      {"County":"Santa Clara","date":"2020-06-30","value":0.026},
      {"County":"Santa Clara","date":"2020-07-04","value":0.064},
      {"County":"Santa Clara","date":"2020-07-08","value":0.10},
      {"County":"Santa Clara","date":"2020-07-11","value":0.114},
      {"County":"Santa Clara","date":"2020-07-14","value":0.076},
      {"County":"Santa Clara","date":"2020-07-17","value":0.076},
      {"County":"Santa Clara","date":"2020-07-20","value":0.064},
      {"County":"Santa Clara","date":"2020-07-23","value":0.076},
      {"County":"Santa Clara","date":"2020-07-26","value":0.07},
      {"County":"Santa Clara","date":"2020-07-29","value":0.09},
      {"County":"Santa Clara","date":"2020-08-01","value":0.076},
      {"County":"Santa Clara","date":"2020-08-04","value":0.108},
      {"County":"Santa Clara","date":"2020-08-07","value":0.076},
      {"County":"Santa Clara","date":"2020-08-10","value":0.038},
      {"County":"Santa Clara","date":"2020-08-12","value":0.032},
      {"County":"Santa Clara","date":"2020-08-15","value":0.09},
      {"County":"Santa Clara","date":"2020-08-18","value":0.114},
      {"County":"Santa Clara","date":"2020-08-21","value":0.133},
      {"County":"Santa Clara","date":"2020-08-24","value":0.146},
      {"County":"Santa Clara","date":"2020-08-27","value":0.133},
      {"County":"Santa Clara","date":"2020-08-30","value":0.10},
      {"County":"Santa Clara","date":"2020-09-02","value":0.095},
      {"County":"Santa Clara","date":"2020-09-06","value":0.095},
      {"County":"Santa Clara","date":"2020-09-10","value":0.095},
      {"County":"Santa Clara","date":"2020-09-14","value":0.108},
      {"County":"Santa Clara","date":"2020-09-17","value":0.127},
      {"County":"Santa Clara","date":"2020-09-20","value":0.108},
      {"County":"Santa Clara","date":"2020-09-23","value":0.09},
      {"County":"Santa Clara","date":"2020-09-27","value":0.10},
      {"County":"Santa Clara","date":"2020-09-30","value":0.12},
      {"County":"Santa Clara","date":"2020-10-03","value":0.108},
      {"County":"Santa Clara","date":"2020-10-07","value":0.076},
      {"County":"Santa Clara","date":"2020-10-10","value":0.10},
      {"County":"Santa Clara","date":"2020-10-14","value":0.064},
      {"County":"Santa Clara","date":"2020-10-16","value":0.067},
      {"County":"Santa Clara","date":"2020-10-19","value":0.06},
      {"County":"Santa Clara","date":"2020-10-22","value":0.114},
      {"County":"Santa Clara","date":"2020-10-25","value":0.114},
      {"County":"Santa Clara","date":"2020-10-28","value":0.075},
      {"County":"Santa Clara","date":"2020-10-31","value":0.06},
      {"County":"Santa Clara","date":"2020-11-03","value":0.106},
      {"County":"Santa Clara","date":"2020-11-06","value":0.137},
      {"County":"Santa Clara","date":"2020-11-09","value":0.106},
      {"County":"Santa Clara","date":"2020-11-12","value":0.075},
      {"County":"Santa Clara","date":"2020-11-15","value":0.075},
      {"County":"Santa Clara","date":"2020-11-18","value":0.12},
      {"County":"Santa Clara","date":"2020-11-21","value":0.145},
      {"County":"Santa Clara","date":"2020-11-24","value":0.12},
      {"County":"Santa Clara","date":"2020-11-27","value":0.145},
      {"County":"Santa Clara","date":"2020-11-30","value":0.19},
      {"County":"Santa Clara","date":"2020-12-03","value":0.26},
      {"County":"Santa Clara","date":"2020-12-04","value":0.30},
      {"County":"Santa Clara","date":"2020-12-07","value":0.36},
      {"County":"Santa Clara","date":"2020-12-10","value":0.45},
      {"County":"Santa Clara","date":"2020-12-13","value":0.50},
      {"County":"Santa Clara","date":"2020-12-15","value":0.585},
      {"County":"Santa Clara","date":"2020-12-17","value":0.69},
      {"County":"Santa Clara","date":"2020-12-19","value":0.77},
      {"County":"Santa Clara","date":"2020-12-21","value":0.90},
      {"County":"Santa Clara","date":"2020-12-24","value":0.97},
      {"County":"Santa Clara","date":"2020-12-26","value":1.025},
      {"County":"Santa Clara","date":"2020-12-28","value":1.05},
      {"County":"Santa Clara","date":"2020-12-30","value":1.10},
      {"County":"Santa Clara","date":"2021-01-01","value":1.165},
      {"County":"Santa Clara","date":"2021-01-03","value":1.135},
      {"County":"Santa Clara","date":"2021-01-05","value":1.05},
      {"County":"Santa Clara","date":"2021-01-08","value":0.91},
      {"County":"Santa Clara","date":"2021-01-10","value":0.87},
      {"County":"Santa Clara","date":"2021-01-12","value":1.00},
      {"County":"Santa Clara","date":"2021-01-15","value":1.05},
      {"County":"Santa Clara","date":"2021-01-16","value":1.10},
      {"County":"Santa Clara","date":"2021-01-19","value":1.05},
      {"County":"Santa Clara","date":"2021-01-21","value":1.04},
      {"County":"Santa Clara","date":"2021-01-22","value":0.95},
      {"County":"Santa Clara","date":"2021-01-25","value":0.85},
      {"County":"Santa Clara","date":"2021-01-27","value":0.77},
      {"County":"Santa Clara","date":"2021-01-28","value":0.74},
      {"County":"Santa Clara","date":"2021-01-31","value":0.66},
      {"County":"Santa Clara","date":"2021-02-03","value":0.65},
      {"County":"Santa Clara","date":"2021-02-06","value":0.61},
      {"County":"Santa Clara","date":"2021-02-07","value":0.56},
      {"County":"Santa Clara","date":"2021-02-09","value":0.51},
      {"County":"Santa Clara","date":"2021-02-11","value":0.475},
      {"County":"Santa Clara","date":"2021-02-14","value":0.46},
      {"County":"Santa Clara","date":"2021-02-16","value":0.43},
      {"County":"Santa Clara","date":"2021-02-18","value":0.365},
      {"County":"Santa Clara","date":"2021-02-20","value":0.32},
      {"County":"Santa Clara","date":"2021-02-23","value":0.29},
      {"County":"Santa Clara","date":"2021-02-26","value":0.26},
      {"County":"Santa Clara","date":"2021-03-01","value":0.20},
      {"County":"Santa Clara","date":"2021-03-04","value":0.17},
      {"County":"Santa Clara","date":"2021-03-07","value":0.13},
      {"County":"Santa Clara","date":"2021-03-10","value":0.137},
      {"County":"Santa Clara","date":"2021-03-13","value":0.16},
      {"County":"Santa Clara","date":"2021-03-16","value":0.12},
      {"County":"Santa Clara","date":"2021-03-19","value":0.075},
      {"County":"Santa Clara","date":"2021-03-22","value":0.106},
      {"County":"Santa Clara","date":"2021-03-25","value":0.09},
      {"County":"Santa Clara","date":"2021-03-28","value":0.075},
      {"County":"Santa Clara","date":"2021-04-01","value":0.035},
      {"County":"Santa Clara","date":"2021-04-04","value":0.06},
      {"County":"Santa Clara","date":"2021-04-06","value":0.083},
      {"County":"Santa Clara","date":"2021-04-08","value":0.108},
      {"County":"Santa Clara","date":"2021-04-11","value":0.057},
      {"County":"Santa Clara","date":"2021-04-14","value":0.05},
      {"County":"Santa Clara","date":"2021-04-18","value":0.045},
      {"County":"Santa Clara","date":"2021-04-22","value":0.032},
      {"County":"Santa Clara","date":"2021-04-26","value":0.045},
      {"County":"Santa Clara","date":"2021-04-30","value":0.05},
      {"County":"Santa Clara","date":"2021-05-04","value":0.057},
      {"County":"Santa Clara","date":"2021-05-08","value":0.057},
      {"County":"Santa Clara","date":"2021-05-11","value":0.032},
      {"County":"Santa Clara","date":"2021-05-14","value":0.013},
      {"County":"Santa Clara","date":"2021-05-19","value":0.02},
      {"County":"Santa Clara","date":"2021-05-25","value":0.02},
      {"County":"Santa Clara","date":"2021-05-29","value":0.026},
      {"County":"Santa Clara","date":"2021-06-01","value":0.038},
      {"County":"Santa Clara","date":"2021-06-05","value":0.032},
      {"County":"Santa Clara","date":"2021-06-09","value":0.02},
      {"County":"Santa Clara","date":"2021-06-13","value":0.02},
      {"County":"Santa Clara","date":"2021-06-18","value":0.007},
      {"County":"Santa Clara","date":"2021-06-23","value":0.013},
      {"County":"Santa Clara","date":"2021-06-28","value":0.007},
      {"County":"Santa Clara","date":"2021-07-04","value":0.007},
      {"County":"Santa Clara","date":"2021-07-11","value":0.007},
      {"County":"Santa Clara","date":"2021-07-16","value":0.013},
      {"County":"Santa Clara","date":"2021-07-22","value":0.02},
      {"County":"Santa Clara","date":"2021-07-27","value":0.026},
      {"County":"Santa Clara","date":"2021-08-02","value":0.032},
      {"County":"Santa Clara","date":"2021-08-06","value":0.026},
      {"County":"Santa Clara","date":"2021-08-11","value":0.05},
      {"County":"Santa Clara","date":"2021-08-14","value":0.057},
      {"County":"Santa Clara","date":"2021-08-18","value":0.064},
      {"County":"Santa Clara","date":"2021-08-22","value":0.10},
      {"County":"Santa Clara","date":"2021-08-26","value":0.114},
      {"County":"Santa Clara","date":"2021-08-30","value":0.146},
      {"County":"Santa Clara","date":"2021-09-02","value":0.152},
      {"County":"Santa Clara","date":"2021-09-05","value":0.133},
      {"County":"Santa Clara","date":"2021-09-08","value":0.165},
      {"County":"Santa Clara","date":"2021-09-11","value":0.183},
      {"County":"Santa Clara","date":"2021-09-14","value":0.21},
      {"County":"Santa Clara","date":"2021-09-17","value":0.158},
      {"County":"Santa Clara","date":"2021-09-20","value":0.07},
      {"County":"Santa Clara","date":"2021-09-23","value":0.06},
      {"County":"Santa Clara","date":"2021-09-26","value":0.083},
      {"County":"Santa Clara","date":"2021-09-29","value":0.10},
      {"County":"Santa Clara","date":"2021-10-01","value":0.07},
      {"County":"Santa Clara","date":"2021-10-06","value":0.076},
      {"County":"Santa Clara","date":"2021-10-09","value":0.064},
      {"County":"Santa Clara","date":"2021-10-13","value":0.076},
      {"County":"Santa Clara","date":"2021-10-17","value":0.057},
      {"County":"Santa Clara","date":"2021-10-20","value":0.032},
      {"County":"Santa Clara","date":"2021-10-23","value":0.057},
      {"County":"Santa Clara","date":"2021-10-27","value":0.07},
      {"County":"Santa Clara","date":"2021-10-31","value":0.057},
      {"County":"Santa Clara","date":"2021-11-04","value":0.083},
      {"County":"Santa Clara","date":"2021-11-08","value":0.083},
      {"County":"Santa Clara","date":"2021-11-12","value":0.076},
      {"County":"Santa Clara","date":"2021-11-16","value":0.07},
      {"County":"Santa Clara","date":"2021-11-20","value":0.057},
      {"County":"Santa Clara","date":"2021-11-24","value":0.05},
      {"County":"Santa Clara","date":"2021-11-28","value":0.057},
      {"County":"Santa Clara","date":"2021-12-01","value":0.045},
      {"County":"Santa Clara","date":"2021-12-05","value":0.076},
      {"County":"Santa Clara","date":"2021-12-10","value":0.064},
      {"County":"Santa Clara","date":"2021-12-13","value":0.045},
      {"County":"Santa Clara","date":"2021-12-17","value":0.06},
      {"County":"Santa Clara","date":"2021-12-22","value":0.075},
      {"County":"Santa Clara","date":"2021-12-24","value":0.09},
      {"County":"Santa Clara","date":"2021-12-28","value":0.07},
      {"County":"Santa Clara","date":"2022-01-01","value":0.06},
      {"County":"Santa Clara","date":"2022-01-04","value":0.08},
      {"County":"Santa Clara","date":"2022-01-07","value":0.11},
      {"County":"Santa Clara","date":"2022-01-11","value":0.18},
      {"County":"Santa Clara","date":"2022-01-15","value":0.17},
      {"County":"Santa Clara","date":"2022-01-19","value":0.23},
      {"County":"Santa Clara","date":"2022-01-21","value":0.33},
      {"County":"Santa Clara","date":"2022-01-24","value":0.36},
      {"County":"Santa Clara","date":"2022-01-26","value":0.31},
      {"County":"Santa Clara","date":"2022-01-29","value":0.35},
      {"County":"Santa Clara","date":"2022-01-31","value":0.36},
      {"County":"Santa Clara","date":"2022-02-04","value":0.28},
      {"County":"Santa Clara","date":"2022-02-07","value":0.20},
      {"County":"Santa Clara","date":"2022-02-11","value":0.17},
      {"County":"Santa Clara","date":"2022-02-16","value":0.17},
      {"County":"Santa Clara","date":"2022-02-19","value":0.11},
      {"County":"Santa Clara","date":"2022-02-24","value":0.15},
      {"County":"Santa Clara","date":"2022-02-27","value":0.12},
      {"County":"Santa Clara","date":"2022-03-02","value":0.06},
      {"County":"Santa Clara","date":"2022-03-05","value":0.03},
      {"County":"Santa Clara","date":"2022-03-09","value":0.025},
      {"County":"Santa Clara","date":"2022-03-14","value":0.025}
    ]
  },
  "encoding": {
    "x": {
      "field": "date",
      "type": "temporal",
      "scale": {"type": "utc", "domain": [{"year": 2020, "month": 4, "date": 28, "utc": true}, {"year": 2022, "month": 3, "date": 20, "utc": true}]},
      "axis": {
        "title": "Date",
        "values": [
          {"year":2020,"month":5,"date":4,"utc":true},{"year":2020,"month":5,"date":25,"utc":true},
          {"year":2020,"month":6,"date":15,"utc":true},{"year":2020,"month":7,"date":6,"utc":true},
          {"year":2020,"month":7,"date":27,"utc":true},{"year":2020,"month":8,"date":17,"utc":true},
          {"year":2020,"month":9,"date":7,"utc":true},{"year":2020,"month":9,"date":28,"utc":true},
          {"year":2020,"month":10,"date":19,"utc":true},{"year":2020,"month":11,"date":9,"utc":true},
          {"year":2020,"month":11,"date":30,"utc":true},{"year":2020,"month":12,"date":21,"utc":true},
          {"year":2021,"month":1,"date":11,"utc":true},{"year":2021,"month":2,"date":1,"utc":true},
          {"year":2021,"month":2,"date":22,"utc":true},{"year":2021,"month":3,"date":15,"utc":true},
          {"year":2021,"month":4,"date":5,"utc":true},{"year":2021,"month":4,"date":26,"utc":true},
          {"year":2021,"month":5,"date":17,"utc":true},{"year":2021,"month":6,"date":7,"utc":true},
          {"year":2021,"month":6,"date":28,"utc":true},{"year":2021,"month":7,"date":19,"utc":true},
          {"year":2021,"month":8,"date":9,"utc":true},{"year":2021,"month":8,"date":30,"utc":true},
          {"year":2021,"month":9,"date":20,"utc":true},{"year":2021,"month":10,"date":11,"utc":true},
          {"year":2021,"month":11,"date":1,"utc":true},{"year":2021,"month":11,"date":22,"utc":true},
          {"year":2021,"month":12,"date":13,"utc":true},{"year":2022,"month":1,"date":3,"utc":true},
          {"year":2022,"month":1,"date":24,"utc":true},{"year":2022,"month":2,"date":14,"utc":true},
          {"year":2022,"month":3,"date":7,"utc":true}
        ],
        "format": "%b %d",
        "labelExpr": "round(datum.value/86400000) % 42 === 32 ? datum.label : ''",
        "labelOverlap": false,
        "labelFlush": false,
        "labelBound": false,
        "labelFontSize": 23.5,
        "labelColor": "#4D4D4D",
        "labelPadding": 9,
        "domain": false,
        "grid": true,
        "gridColor": "#EBEBEB",
        "gridWidth": {"condition": {"test": "round(datum.value/86400000) % 42 === 32", "value": 2.2}, "value": 1.1},
        "tickColor": "#333333",
        "tickWidth": 1.4,
        "tickSize": 7,
        "tickOpacity": {"condition": {"test": "round(datum.value/86400000) % 42 === 32", "value": 1}, "value": 0},
        "titleFontSize": 33,
        "titleFontWeight": "normal",
        "titleColor": "black",
        "titlePadding": 11
      }
    },
    "y": {
      "field": "value",
      "type": "quantitative",
      "scale": {"domain": [-0.053, 1.224], "nice": false, "zero": false},
      "axis": {
        "title": ["New Daily Deaths due to COVID-19", "per 100,000 People"],
        "values": [0, 0.15, 0.3, 0.45, 0.6, 0.75, 0.9, 1.05, 1.2],
        "format": ".2f",
        "labelExpr": "round(datum.value*100) % 30 === 0 ? datum.label : ''",
        "labelFontSize": 23.5,
        "labelColor": "#4D4D4D",
        "labelPadding": 8,
        "domain": false,
        "grid": true,
        "gridColor": "#EBEBEB",
        "gridWidth": {"condition": {"test": "round(datum.value*100) % 30 === 0", "value": 2.2}, "value": 1.1},
        "tickColor": "#333333",
        "tickWidth": 1.4,
        "tickSize": 7,
        "tickOpacity": {"condition": {"test": "round(datum.value*100) % 30 === 0", "value": 1}, "value": 0},
        "titleFontSize": 33,
        "titleFontWeight": "normal",
        "titleColor": "black",
        "titleLineHeight": 40,
        "titlePadding": 10
      }
    }
  },
  "layer": [
    {
      "data": {"values": [{"date": "2021-01-11", "value": 1.11, "label": "UC Irvine COVID Awareness Group"}]},
      "mark": {"type": "text", "fontSize": 41, "color": "#9CC3DC", "align": "center", "baseline": "middle", "font": "Liberation Sans"},
      "encoding": {"text": {"field": "label"}}
    },
    {
      "data": {"name": "deaths"},
      "mark": {"type": "line", "strokeWidth": 7, "strokeJoin": "round", "strokeCap": "butt"},
      "encoding": {
        "color": {
          "field": "County",
          "type": "nominal",
          "scale": {
            "domain": ["Alameda", "Contra Costa", "Sacramento", "San Francisco", "Santa Clara"],
            "range": ["#56B4E9", "#CBA0E3", "#CC6156", "#E6C85A", "#0072B2"]
          },
          "legend": {
            "title": "County",
            "orient": "none",
            "legendX": -20,
            "legendY": 812,
            "direction": "horizontal",
            "titleOrient": "left",
            "titleFontSize": 33.5,
            "titleFontWeight": "normal",
            "titleColor": "black",
            "titlePadding": 14,
            "labelFontSize": 24.4,
            "labelColor": "black",
            "labelOffset": 15,
            "symbolType": "stroke",
            "symbolSize": 1444,
            "symbolStrokeWidth": 8,
            "columnPadding": 16
          }
        }
      }
    }
  ]
}
